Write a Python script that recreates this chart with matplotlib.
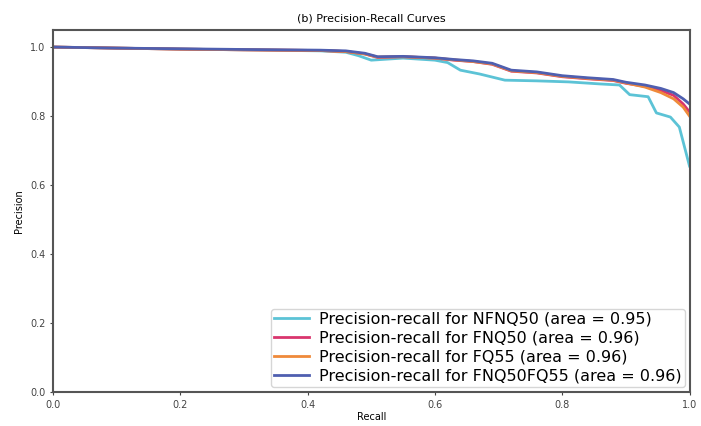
import numpy as np
import matplotlib.pyplot as plt

# recall / precision
rec_nfnq50 = [0.0, 0.10, 0.20, 0.30, 0.42, 0.46, 0.48, 0.50, 0.55, 0.60, 0.62, 0.64, 0.67,
              0.71, 0.76, 0.81, 0.86, 0.89, 0.906, 0.935, 0.948, 0.97, 0.984, 1.0]
prec_nfnq50 = [1.0, 0.997, 0.994, 0.992, 0.989, 0.985, 0.975, 0.962, 0.968, 0.962, 0.955, 0.933, 0.922,
               0.904, 0.902, 0.899, 0.893, 0.890, 0.862, 0.856, 0.809, 0.797, 0.768, 0.655]

rec_fnq50 = [0.0, 0.10, 0.20, 0.30, 0.42, 0.46, 0.49, 0.51, 0.55, 0.60, 0.63, 0.66, 0.69,
             0.72, 0.76, 0.80, 0.84, 0.88, 0.90, 0.93, 0.955, 0.975, 0.99, 1.0]
prec_fnq50 = [1.0, 0.997, 0.994, 0.992, 0.990, 0.987, 0.980, 0.970, 0.972, 0.968, 0.962, 0.958, 0.950,
              0.930, 0.925, 0.914, 0.908, 0.903, 0.895, 0.886, 0.874, 0.860, 0.835, 0.812]

rec_fq55 = [0.0, 0.10, 0.20, 0.30, 0.42, 0.46, 0.49, 0.51, 0.55, 0.60, 0.63, 0.66, 0.69,
            0.72, 0.76, 0.80, 0.84, 0.88, 0.90, 0.93, 0.955, 0.975, 0.99, 1.0]
prec_fq55 = [1.0, 0.997, 0.994, 0.992, 0.990, 0.987, 0.980, 0.971, 0.972, 0.968, 0.963, 0.958, 0.951,
             0.931, 0.926, 0.915, 0.909, 0.904, 0.896, 0.884, 0.868, 0.850, 0.826, 0.800]

rec_both = [0.0, 0.10, 0.20, 0.30, 0.42, 0.46, 0.49, 0.51, 0.55, 0.60, 0.63, 0.66, 0.69,
            0.72, 0.76, 0.80, 0.84, 0.88, 0.90, 0.93, 0.955, 0.975, 0.99, 1.0]
prec_both = [1.0, 0.997, 0.995, 0.993, 0.991, 0.989, 0.982, 0.972, 0.973, 0.969, 0.964, 0.960, 0.953,
             0.933, 0.928, 0.917, 0.911, 0.906, 0.898, 0.890, 0.880, 0.868, 0.850, 0.835]

labels = ['Precision-recall for NFNQ50 (area = 0.95)',
          'Precision-recall for FNQ50 (area = 0.96)',
          'Precision-recall for FQ55 (area = 0.96)',
          'Precision-recall for FNQ50FQ55 (area = 0.96)']
colors = ['#5cc3d6', '#d9356e', '#ef8a3a', '#4f5fb0']

fig = plt.figure(figsize=(7.01, 4.26), dpi=100)
ax = fig.add_axes([0.0756, 0.080, 0.908, 0.850])

curves = [(rec_nfnq50, prec_nfnq50), (rec_fnq50, prec_fnq50),
          (rec_fq55, prec_fq55), (rec_both, prec_both)]
for (r, p), lab, c in zip(curves, labels, colors):
    ax.plot(r, p, color=c, lw=2, label=lab)

ax.set_xlim(0, 1)
ax.set_ylim(0, 1.05)
ax.set_xticks([0, 0.2, 0.4, 0.6, 0.8, 1.0])
ax.set_yticks([0, 0.2, 0.4, 0.6, 0.8, 1.0])
ax.tick_params(labelsize=7, length=2, colors='#444444')
for s in ax.spines.values():
    s.set_color('#555555')
    s.set_linewidth(1.5)
ax.set_xlabel('Recall', fontsize=7, labelpad=2)
ax.set_ylabel('Precision', fontsize=7)
ax.set_title('(b) Precision-Recall Curves', fontsize=8, pad=6)
ax.legend(loc='lower right', fontsize=11.5, handlelength=2.2, labelspacing=0.25,
          borderpad=0.2, handletextpad=0.6, borderaxespad=0.3)

fig.savefig('out.png', dpi=100)
